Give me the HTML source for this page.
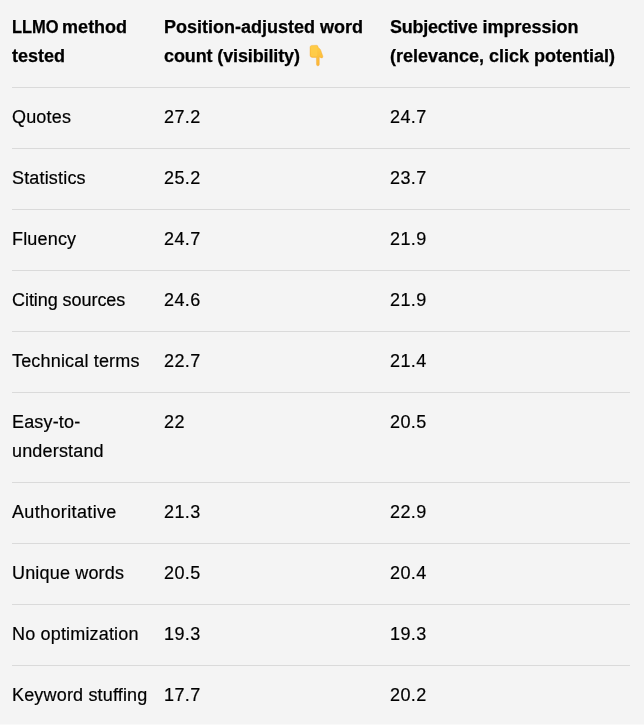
<!DOCTYPE html>
<html>
<head>
<meta charset="utf-8">
<style>
html,body{margin:0;padding:0;}
body{width:644px;height:727px;background:#fff;overflow:hidden;font-family:"Liberation Sans",sans-serif;color:#000;}
.wrap{position:absolute;left:0;top:0;width:644px;height:724px;background:#f4f4f4;}
.row{position:absolute;left:12px;width:618px;border-bottom:1px solid #dadada;}
.c{position:absolute;top:0;will-change:transform;font-size:18px;line-height:28.8px;white-space:nowrap;}
.c1{left:12px;}
.c2{left:164px;}
.c3{left:390px;}
.h .c{font-weight:700;-webkit-text-stroke:0.25px #000;}
.b{letter-spacing:0.17px;-webkit-text-stroke:0.2px #000;}
.n{letter-spacing:0.4px;-webkit-text-stroke:0.2px #000;}
</style>
</head>
<body>
<div style="position:absolute;left:0;top:724px;width:644px;height:1px;background:#f9f9f9"></div>
<div class="wrap">
  <div class="h">
    <div class="c c1" style="top:13.4px"><span style="display:inline-block;transform:scaleX(0.915);transform-origin:0 0;margin-right:-5.9px">LLMO</span> method<br>tested</div>
    <div class="c c2" style="top:13.4px">Position-adjusted word<br><span style="letter-spacing:-0.12px">count (visibility)</span></div>
    <div class="c c3" style="top:13.4px"><span style="letter-spacing:-0.25px">Subjective</span> impression<br>(relevance, click potential)</div>
  </div>
  <svg style="position:absolute;left:304px;top:40px" width="24" height="30" viewBox="0 0 24 30">
    <defs><linearGradient id="g" x1="0" y1="0" x2="0" y2="1"><stop offset="0" stop-color="#ffcd45"/><stop offset="1" stop-color="#fbb636"/></linearGradient></defs>
    <path d="M7.8 5.4 L12.6 5.3 Q14.2 5.4 14.1 7.3 L16.2 9.2 Q17 10.6 17.6 12.8 L18.9 16.2 Q19.1 18.3 17.3 17.9 L15.3 17 L15.3 24.6 Q15.2 25.8 13.9 25.8 Q12.6 25.8 12.5 24.6 L12.4 17.5 L8 17.4 Q6 17.2 6 15.2 L6 7.4 Q6.1 5.5 7.8 5.4 Z" fill="url(#g)" stroke="#f2a12c" stroke-width="0.5" stroke-opacity="0.7"/>
    <path d="M7.6 6.4 L12.4 6.3 Q13.3 6.5 13.3 8 L13.3 15.3 Q13 16.4 11.8 16.4 L8 16.3 Q6.9 16.1 6.9 15 L6.9 7.6 Q7 6.5 7.6 6.4 Z" fill="#ffcc48" opacity="0.9"/>
  </svg>
  <div class="row" style="top:0;height:87px"></div>
  <div class="row" style="top:88px;height:60px"></div>
  <div class="row" style="top:149px;height:60px"></div>
  <div class="row" style="top:210px;height:60px"></div>
  <div class="row" style="top:271px;height:60px"></div>
  <div class="row" style="top:332px;height:60px"></div>
  <div class="row" style="top:393px;height:89px"></div>
  <div class="row" style="top:483px;height:60px"></div>
  <div class="row" style="top:544px;height:60px"></div>
  <div class="row" style="top:605px;height:60px"></div>

  <div class="c c1 b" style="top:103.4px">Quotes</div>
  <div class="c c2 n" style="top:103.4px">27.2</div>
  <div class="c c3 n" style="top:103.4px">24.7</div>

  <div class="c c1 b" style="top:164.4px">Statistics</div>
  <div class="c c2 n" style="top:164.4px">25.2</div>
  <div class="c c3 n" style="top:164.4px">23.7</div>

  <div class="c c1 b" style="top:225.4px">Fluency</div>
  <div class="c c2 n" style="top:225.4px">24.7</div>
  <div class="c c3 n" style="top:225.4px">21.9</div>

  <div class="c c1 b" style="top:286.4px"><span style="letter-spacing:-0.06px">Citing sources</span></div>
  <div class="c c2 n" style="top:286.4px">24.6</div>
  <div class="c c3 n" style="top:286.4px">21.9</div>

  <div class="c c1 b" style="top:347.4px">Technical terms</div>
  <div class="c c2 n" style="top:347.4px">22.7</div>
  <div class="c c3 n" style="top:347.4px">21.4</div>

  <div class="c c1 b" style="top:408.4px">Easy-to-<br>understand</div>
  <div class="c c2 n" style="top:408.4px">22</div>
  <div class="c c3 n" style="top:408.4px">20.5</div>

  <div class="c c1 b" style="top:498.4px"><span style="letter-spacing:0.36px">Authoritative</span></div>
  <div class="c c2 n" style="top:498.4px">21.3</div>
  <div class="c c3 n" style="top:498.4px">22.9</div>

  <div class="c c1 b" style="top:559.4px">Unique words</div>
  <div class="c c2 n" style="top:559.4px">20.5</div>
  <div class="c c3 n" style="top:559.4px">20.4</div>

  <div class="c c1 b" style="top:620.4px">No optimization</div>
  <div class="c c2 n" style="top:620.4px">19.3</div>
  <div class="c c3 n" style="top:620.4px">19.3</div>

  <div class="c c1 b" style="top:681.4px">Keyword stuffing</div>
  <div class="c c2 n" style="top:681.4px">17.7</div>
  <div class="c c3 n" style="top:681.4px">20.2</div>
</div>
</body>
</html>
